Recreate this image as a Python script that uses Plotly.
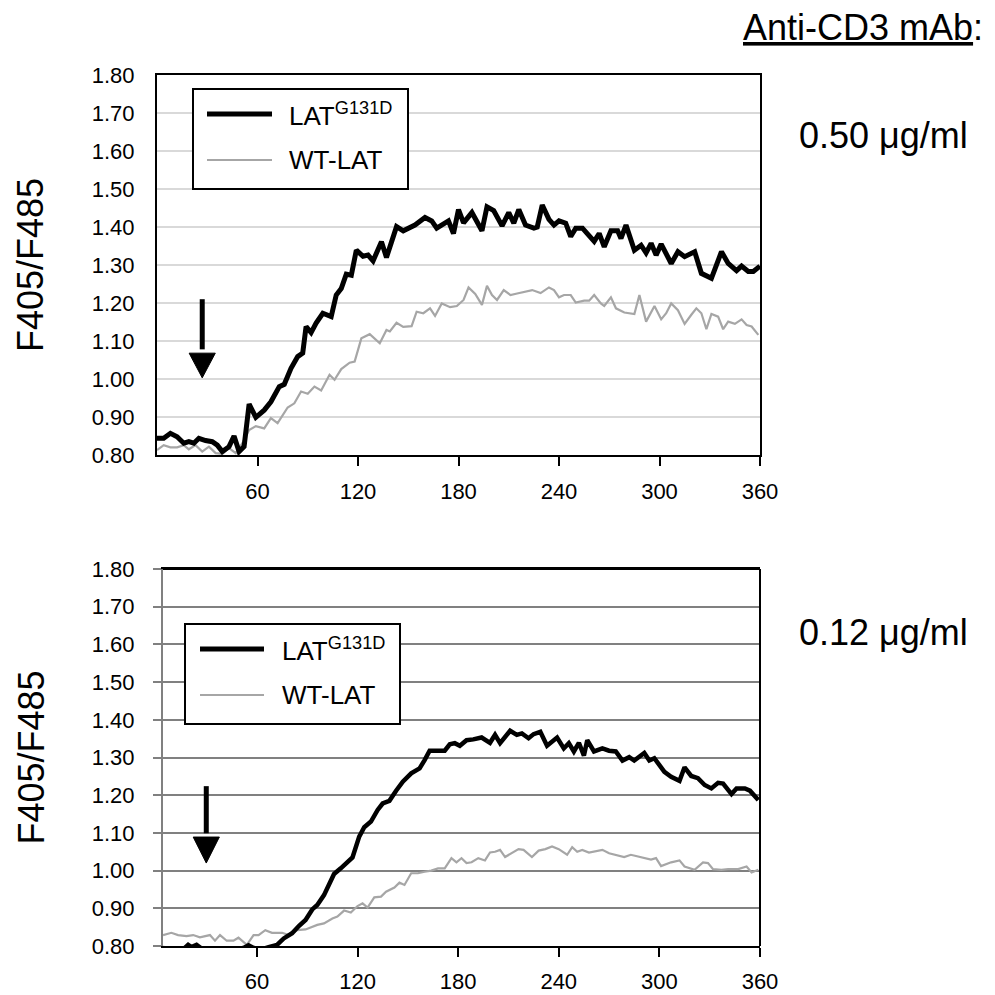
import plotly.graph_objects as go

# ---------------- data ----------------
# Top panel: 0.50 ug/ml anti-CD3
top_black_t = [0, 4, 8, 12, 16, 19, 22, 25, 29, 33,
               36, 39, 43, 46, 49, 52, 55, 59, 64, 68,
               73, 76, 80, 84, 87, 89, 92, 95, 99, 104,
               107, 110, 113, 116, 119, 123, 126, 129, 134, 137,
               143, 147, 154, 160, 164, 167, 174, 177, 180, 183,
               188, 194, 197, 201, 206, 210, 213, 216, 220, 225,
               227, 230, 234, 237, 240, 244, 247, 250, 254, 258,
               261, 264, 267, 271, 275, 277, 280, 285, 289, 292,
               295, 298, 301, 307, 311, 315, 321, 325, 331, 337,
               341, 346, 349, 353, 356, 360]
top_black_v = [0.844, 0.844, 0.857, 0.848, 0.831, 0.835, 0.831, 0.844, 0.838, 0.835,
               0.826, 0.809, 0.822, 0.850, 0.809, 0.822, 0.934, 0.899, 0.918, 0.940,
               0.980, 0.986, 1.028, 1.059, 1.068, 1.138, 1.122, 1.147, 1.173, 1.164,
               1.221, 1.238, 1.276, 1.273, 1.339, 1.323, 1.326, 1.311, 1.361, 1.320,
               1.401, 1.390, 1.405, 1.425, 1.416, 1.397, 1.416, 1.383, 1.446, 1.411,
               1.438, 1.390, 1.453, 1.443, 1.403, 1.438, 1.410, 1.446, 1.405, 1.397,
               1.400, 1.458, 1.420, 1.405, 1.416, 1.410, 1.375, 1.397, 1.397, 1.379,
               1.362, 1.383, 1.348, 1.390, 1.390, 1.370, 1.405, 1.339, 1.352, 1.332,
               1.357, 1.326, 1.355, 1.304, 1.335, 1.322, 1.335, 1.278, 1.265, 1.335,
               1.304, 1.285, 1.297, 1.283, 1.283, 1.297]

top_gray_t = [0, 4, 8, 12, 16, 19, 23, 27, 31, 35,
              39, 43, 47, 51, 55, 59, 64, 68, 72, 78,
              82, 86, 90, 94, 98, 103, 106, 110, 115, 118,
              122, 127, 133, 137, 139, 143, 147, 152, 155, 159,
              163, 166, 170, 175, 179, 183, 186, 190, 194, 197,
              200, 203, 207, 211, 215, 219, 224, 229, 234, 237,
              240, 243, 247, 250, 255, 258, 261, 265, 267, 271,
              274, 279, 285, 288, 292, 297, 301, 304, 307, 311,
              315, 319, 322, 325, 328, 331, 335, 338, 341, 345,
              349, 352, 355, 359]
top_gray_v = [0.813, 0.826, 0.820, 0.820, 0.826, 0.815, 0.826, 0.809, 0.822, 0.805,
              0.803, 0.818, 0.805, 0.831, 0.866, 0.876, 0.870, 0.897, 0.884, 0.925,
              0.936, 0.967, 0.961, 0.980, 0.970, 1.011, 0.998, 1.026, 1.043, 1.046,
              1.107, 1.118, 1.094, 1.129, 1.125, 1.148, 1.137, 1.139, 1.177, 1.173,
              1.186, 1.166, 1.199, 1.189, 1.192, 1.208, 1.241, 1.224, 1.195, 1.245,
              1.221, 1.208, 1.234, 1.221, 1.225, 1.229, 1.234, 1.226, 1.241, 1.234,
              1.215, 1.221, 1.221, 1.201, 1.206, 1.206, 1.221, 1.199, 1.192, 1.215,
              1.186, 1.175, 1.171, 1.221, 1.151, 1.192, 1.157, 1.173, 1.199, 1.181,
              1.145, 1.169, 1.186, 1.173, 1.131, 1.171, 1.164, 1.131, 1.151, 1.145,
              1.157, 1.142, 1.138, 1.116]

# Bottom panel: 0.12 ug/ml anti-CD3
bot_black_t = [4, 8, 13, 17, 19, 21, 24, 28, 33, 38,
               43, 48, 52, 55, 58, 62, 67, 72, 76, 81,
               85, 89, 93, 96, 100, 104, 106, 110, 114, 117,
               121, 124, 128, 132, 135, 139, 143, 147, 152, 157,
               160, 163, 167, 172, 175, 178, 181, 185, 189, 194,
               199, 202, 205, 211, 215, 218, 222, 225, 229, 233,
               239, 243, 246, 249, 252, 255, 257, 261, 266, 270,
               274, 278, 282, 285, 291, 294, 297, 303, 307, 312,
               315, 319, 323, 327, 331, 335, 338, 343, 346, 351,
               354, 359]
bot_black_v = [0.795, 0.790, 0.790, 0.795, 0.803, 0.797, 0.803, 0.790, 0.785, 0.785,
               0.790, 0.790, 0.795, 0.802, 0.795, 0.790, 0.797, 0.803, 0.820, 0.834,
               0.853, 0.869, 0.897, 0.909, 0.935, 0.973, 0.991, 1.006, 1.024, 1.035,
               1.090, 1.115, 1.130, 1.161, 1.178, 1.185, 1.212, 1.236, 1.258, 1.271,
               1.293, 1.318, 1.318, 1.318, 1.335, 1.338, 1.331, 1.346, 1.348, 1.353,
               1.339, 1.360, 1.338, 1.371, 1.360, 1.364, 1.351, 1.362, 1.368, 1.331,
               1.353, 1.324, 1.338, 1.316, 1.339, 1.305, 1.346, 1.316, 1.324, 1.318,
               1.316, 1.292, 1.301, 1.292, 1.312, 1.292, 1.298, 1.262, 1.249, 1.238,
               1.274, 1.251, 1.245, 1.227, 1.218, 1.233, 1.231, 1.203, 1.218, 1.218,
               1.212, 1.187]

bot_gray_t = [4, 9, 13, 18, 22, 26, 32, 35, 38, 42,
              46, 49, 54, 58, 61, 65, 69, 75, 79, 84,
              89, 92, 96, 100, 105, 108, 112, 116, 120, 123,
              126, 130, 134, 137, 142, 145, 148, 152, 156, 160,
              164, 168, 172, 176, 179, 182, 185, 188, 192, 196,
              199, 202, 205, 208, 212, 216, 219, 224, 228, 232,
              236, 240, 245, 248, 251, 254, 258, 261, 266, 270,
              274, 279, 283, 287, 291, 295, 298, 301, 307, 312,
              315, 321, 326, 329, 332, 337, 341, 347, 352, 355,
              359]
bot_gray_v = [0.829, 0.835, 0.829, 0.826, 0.829, 0.823, 0.829, 0.814, 0.829, 0.814,
              0.814, 0.822, 0.803, 0.829, 0.829, 0.842, 0.835, 0.835, 0.829, 0.842,
              0.844, 0.849, 0.856, 0.860, 0.873, 0.878, 0.894, 0.889, 0.906, 0.913,
              0.902, 0.929, 0.931, 0.944, 0.955, 0.968, 0.962, 0.993, 0.993, 0.997,
              1.000, 1.006, 1.006, 1.033, 1.022, 1.033, 1.020, 1.022, 1.033, 1.027,
              1.048, 1.050, 1.055, 1.036, 1.046, 1.057, 1.055, 1.036, 1.053, 1.057,
              1.064, 1.057, 1.042, 1.062, 1.050, 1.055, 1.048, 1.050, 1.055, 1.046,
              1.042, 1.036, 1.042, 1.038, 1.033, 1.029, 1.033, 1.012, 1.022, 1.027,
              1.011, 1.002, 1.022, 1.020, 1.004, 1.002, 1.004, 1.004, 1.011, 0.995,
              1.002]

x_ticks = [60, 120, 180, 240, 300, 360]
y_ticks = [0.80, 0.90, 1.00, 1.10, 1.20, 1.30, 1.40, 1.50, 1.60, 1.70, 1.80]
y_tick_text = ["%.2f" % v for v in y_ticks]
series_names = ["LAT<sup>G131D</sup>", "WT-LAT"]
panel_labels = ["0.50 μg/ml", "0.12 μg/ml"]
header = "<u>Anti-CD3 mAb</u>:"
y_title = "F405/F485"

assert len(top_black_t) == len(top_black_v)
assert len(top_gray_t) == len(top_gray_v)
assert len(bot_black_t) == len(bot_black_v)
assert len(bot_gray_t) == len(bot_gray_v)

# ---------------- layout helpers ----------------
W = H = 995
FONT = "Arial, 'Liberation Sans', sans-serif"
BLACK = "#000000"
GRAY_LINE = "#a6a6a6"


def px(x):
    return x / W


def py(y):
    return 1 - y / H


fig = go.Figure()

fig.add_trace(go.Scatter(x=top_gray_t, y=top_gray_v, mode="lines", name="WT-LAT",
                         line=dict(color=GRAY_LINE, width=2.2), xaxis="x", yaxis="y",
                         showlegend=False))
fig.add_trace(go.Scatter(x=top_black_t, y=top_black_v, mode="lines", name="LAT G131D",
                         line=dict(color=BLACK, width=5), xaxis="x", yaxis="y",
                         showlegend=False))
fig.add_trace(go.Scatter(x=bot_gray_t, y=bot_gray_v, mode="lines", name="WT-LAT",
                         line=dict(color=GRAY_LINE, width=2.2), xaxis="x2", yaxis="y2",
                         showlegend=False))
fig.add_trace(go.Scatter(x=bot_black_t, y=bot_black_v, mode="lines", name="LAT G131D",
                         line=dict(color=BLACK, width=4.5), xaxis="x2", yaxis="y2",
                         showlegend=False))

tickfont = dict(family=FONT, size=22, color=BLACK)

fig.update_layout(
    width=W, height=H,
    margin=dict(l=0, r=0, t=0, b=0, pad=0, autoexpand=False),
    paper_bgcolor="white", plot_bgcolor="white",
    font=dict(family=FONT, color=BLACK),
    xaxis=dict(domain=[px(157), px(760)], range=[0, 360], anchor="y", automargin=False,
               tickvals=x_ticks, ticks="outside", ticklen=9, tickwidth=2, tickcolor=BLACK,
               showline=True, linecolor=BLACK, linewidth=2, mirror=True,
               showgrid=False, zeroline=False, tickfont=tickfont, ticklabelstandoff=7),
    yaxis=dict(domain=[py(455), py(75)], range=[0.8, 1.8], anchor="x", automargin=False,
               tickvals=y_ticks, ticktext=y_tick_text, ticks="",
               showline=True, linecolor=BLACK, linewidth=2, mirror=True,
               showgrid=True, gridcolor="#d9d9d9", gridwidth=2, zeroline=False,
               tickfont=tickfont, ticklabelstandoff=16),
    xaxis2=dict(domain=[px(163), px(760)], range=[4, 360], anchor="y2", automargin=False,
                tickvals=x_ticks, ticks="outside", ticklen=9, tickwidth=2, tickcolor=BLACK,
                showline=True, linecolor=BLACK, linewidth=2, mirror=True,
                showgrid=False, zeroline=False, tickfont=tickfont, ticklabelstandoff=6),
    yaxis2=dict(domain=[py(946), py(569)], range=[0.8, 1.8], anchor="x2", automargin=False,
                tickvals=y_ticks, ticktext=y_tick_text, ticks="outside", ticklen=8,
                tickwidth=2, tickcolor="#808080",
                showline=True, linecolor="#808080", linewidth=2, mirror=False,
                showgrid=True, gridcolor="#808080", gridwidth=2, zeroline=False,
                tickfont=tickfont, ticklabelstandoff=14),
)

shapes = []
# right and top border of the lower panel (black)
shapes.append(dict(type="line", xref="x2 domain", yref="y2 domain", x0=1, x1=1, y0=0, y1=1,
                   line=dict(color=BLACK, width=2), layer="above"))
shapes.append(dict(type="line", xref="x2 domain", yref="y2 domain", x0=0, x1=1, y0=1, y1=1,
                   line=dict(color=BLACK, width=2), layer="above"))

# stimulus arrows (annotation marks)
arrows = [("x", "y", 27, 1.21, 1.068, 1.003, 7.8),
          ("x2", "y2", 29.8, 1.224, 1.089, 1.020, 7.8)]
for xr, yr, ax, ytop, ybase, ytip, hw in arrows:
    shapes.append(dict(type="line", xref=xr, yref=yr, x0=ax, x1=ax, y0=ytop, y1=ybase + 0.01,
                       line=dict(color=BLACK, width=5), layer="above"))
    shapes.append(dict(type="path", xref=xr, yref=yr,
                       path=f"M {ax - hw},{ybase} L {ax + hw},{ybase} L {ax},{ytip} Z",
                       fillcolor=BLACK, line=dict(color=BLACK, width=1), layer="above"))

# manual legends (box + line samples)
legend_boxes = [(193, 89, 408, 189, 207, 272, 114, 160, 289),
                (185, 624, 400, 724, 200, 264, 649, 695, 282)]
annotations = []
for (bx0, by0, bx1, by1, lx0, lx1, ly1, ly2, tx) in legend_boxes:
    shapes.append(dict(type="rect", xref="paper", yref="paper",
                       x0=px(bx0), x1=px(bx1), y0=py(by1), y1=py(by0),
                       fillcolor="white", line=dict(color=BLACK, width=2), layer="above"))
    shapes.append(dict(type="line", xref="paper", yref="paper",
                       x0=px(lx0), x1=px(lx1), y0=py(ly1), y1=py(ly1),
                       line=dict(color=BLACK, width=5), layer="above"))
    shapes.append(dict(type="line", xref="paper", yref="paper",
                       x0=px(lx0), x1=px(lx1), y0=py(ly2), y1=py(ly2),
                       line=dict(color=GRAY_LINE, width=2.2), layer="above"))
    annotations.append(dict(xref="paper", yref="paper", x=px(tx - 2), y=py(ly1),
                            text=series_names[0], showarrow=False, xanchor="left",
                            yanchor="middle", font=dict(family=FONT, size=26, color=BLACK)))
    annotations.append(dict(xref="paper", yref="paper", x=px(tx - 2), y=py(ly2),
                            text=series_names[1], showarrow=False, xanchor="left",
                            yanchor="middle", font=dict(family=FONT, size=26, color=BLACK)))

# y axis titles
for yc in [(75 + 455) / 2, (569 + 946) / 2]:
    annotations.append(dict(xref="paper", yref="paper", x=px(31), y=py(yc), text=y_title,
                            textangle=-90, showarrow=False, xanchor="center", yanchor="middle",
                            font=dict(family=FONT, size=36, color=BLACK)))

annotations.append(dict(xref="paper", yref="paper", x=px(985), y=py(27), text=header,
                        showarrow=False, xanchor="right", yanchor="middle",
                        font=dict(family=FONT, size=36, color=BLACK)))
annotations.append(dict(xref="paper", yref="paper", x=px(797), y=py(135), text=panel_labels[0],
                        showarrow=False, xanchor="left", yanchor="middle",
                        font=dict(family=FONT, size=36, color=BLACK)))
annotations.append(dict(xref="paper", yref="paper", x=px(797), y=py(632), text=panel_labels[1],
                        showarrow=False, xanchor="left", yanchor="middle",
                        font=dict(family=FONT, size=36, color=BLACK)))

fig.update_layout(shapes=shapes, annotations=annotations)

fig.write_html("out.html", config={"displayModeBar": False},
               post_script="document.body.style.margin='0';document.body.style.overflow='hidden';")
